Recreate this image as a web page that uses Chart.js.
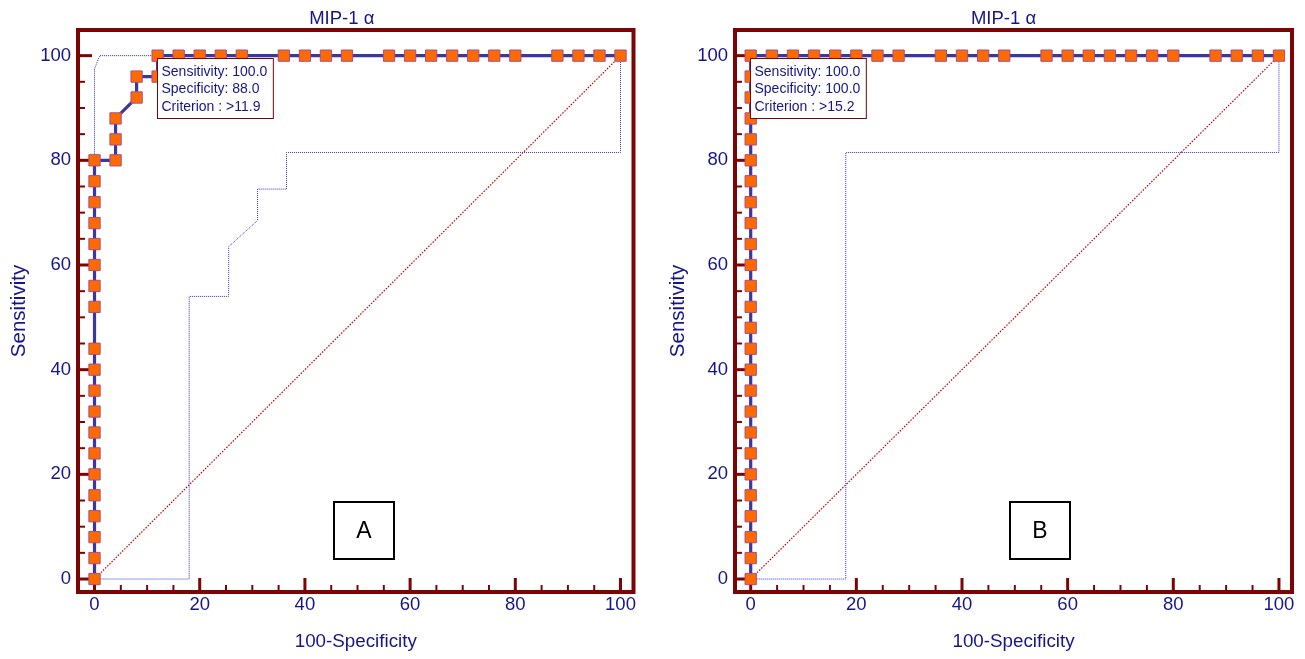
<!DOCTYPE html>
<html>
<head>
<meta charset="utf-8">
<script src="https://cdn.jsdelivr.net/npm/chart.js@4.4.1/dist/chart.umd.min.js"></script>
<style>
html, body { margin: 0; padding: 0; background: #fff; }
#wrap { position: relative; width: 1305px; height: 659px; }
canvas { position: absolute; top: 0; }
</style>
</head>
<body>
<div id="wrap">
  <canvas id="rocA" width="652" height="659" style="left:0px"></canvas>
  <canvas id="rocB" width="653" height="659" style="left:652px"></canvas>
</div>
<script>
// ROC curves, MIP-1 alpha
var chartTitle = "MIP-1 α";
var xTitle = "100-Specificity";
var yTitle = "Sensitivity";
var tickValues = [0, 20, 40, 60, 80, 100];

// panel A
var rocA_x = [0,0,0,0,0,0,0,0,0,0,0,0,0,0,0,0,0,0,0,0,4,4,4,8,8,12,12,16,20,24,28,36,40,44,48,56,60,64,68,72,76,80,88,92,96,100];
var rocA_y = [0,4,8,12,16,20,24,28,32,36,40,44,52,56,60,64,68,72,76,80,80,84,88,92,96,96,100,100,100,100,100,100,100,100,100,100,100,100,100,100,100,100,100,100,100,100];
var loA_x = [0,18,18,25.5,25.5,31,31,36.5,36.5,100,100];
var loA_y = [0,0,54,54,63.5,68.5,74.5,74.5,81.5,81.5,100];
var hiA_x = [0,0,1,100];
var hiA_y = [80,97.5,100,100];
var statsA = ["Sensitivity: 100.0", "Specificity: 88.0", "Criterion : >11.9"];
var critA = [12, 100];

// panel B
var rocB_x = [0,0,0,0,0,0,0,0,0,0,0,0,0,0,0,0,0,0,0,0,0,0,0,0,0,0,4,8,12,16,20,24,28,36,40,44,48,56,60,64,68,72,76,80,88,92,96,100];
var rocB_y = [0,4,8,12,16,20,24,28,32,36,40,44,48,52,56,60,64,68,72,76,80,84,88,92,96,100,100,100,100,100,100,100,100,100,100,100,100,100,100,100,100,100,100,100,100,100,100,100];
var loB_x = [0,18,18,100,100];
var loB_y = [0,0,81.5,81.5,100];
var hiB_x = [0,100];
var hiB_y = [100,100];
var statsB = ["Sensitivity: 100.0", "Specificity: 100.0", "Criterion : >15.2"];
var critB = [0, 100];

var diag_x = [0, 100];
var diag_y = [0, 100];

var navy = "#16168a";
var frameColor = "#7c0404";
var fontFam = "'Liberation Sans', Arial, sans-serif";

function pts(xs, ys) {
    return xs.map(function (x, i) { return { x: x, y: ys[i] }; });
}

var rocDecor = {
    id: 'rocDecor',
    beforeDatasetsDraw: function (chart, args, opts) {
        var ctx = chart.ctx, a = chart.chartArea;
        var xs = chart.scales.x, ys = chart.scales.y;
        ctx.save();
        // title, a little left of the plot centre like the original
        ctx.fillStyle = navy;
        ctx.font = "18.5px " + fontFam;
        ctx.textAlign = "center";
        ctx.textBaseline = "middle";
        ctx.fillText(chartTitle, (a.left + a.right) / 2 - opts.titleShift, 19);

        ctx.strokeStyle = frameColor;
        for (var v = 0; v <= 100; v += 5) {
            var major = v % 20 === 0;
            var len = major ? 14 : 7;
            ctx.lineWidth = major ? 3 : 2;
            var py = ys.getPixelForValue(v);
            ctx.beginPath(); ctx.moveTo(a.left, py); ctx.lineTo(a.left + len, py); ctx.stroke();
            var px = xs.getPixelForValue(v);
            ctx.beginPath(); ctx.moveTo(px, a.bottom); ctx.lineTo(px, a.bottom - len); ctx.stroke();
        }
        ctx.lineWidth = 4;
        ctx.strokeRect(a.left, a.top, a.right - a.left, a.bottom - a.top);
        ctx.restore();
    },
    afterDatasetsDraw: function (chart, args, opts) {
        var ctx = chart.ctx, a = chart.chartArea;
        var xs = chart.scales.x, ys = chart.scales.y;
        ctx.save();
        // stats box at the criterion point
        ctx.font = "14px " + fontFam;
        var w = 0;
        opts.stats.forEach(function (s) { w = Math.max(w, ctx.measureText(s).width); });
        var bx = Math.round(xs.getPixelForValue(opts.crit[0])) - 0.5;
        var by = Math.round(ys.getPixelForValue(opts.crit[1])) + 2.5;
        ctx.fillStyle = "#fff";
        ctx.fillRect(bx, by, w + 10, 60);
        ctx.strokeStyle = frameColor;
        ctx.lineWidth = 1;
        ctx.strokeRect(bx, by, w + 10, 60);
        ctx.fillStyle = navy;
        ctx.textBaseline = "middle";
        opts.stats.forEach(function (s, i) { ctx.fillText(s, bx + 4, by + 13.5 + i * 17.5); });
        // panel letter
        var lx = a.left + opts.panelLeft, ly = a.bottom - 90;
        ctx.strokeStyle = "#000";
        ctx.lineWidth = 2;
        ctx.strokeRect(lx, ly, 60, 57);
        ctx.fillStyle = "#000";
        ctx.font = "23px " + fontFam;
        ctx.textAlign = "center";
        ctx.fillText(opts.panel, lx + 30, ly + 30);
        ctx.restore();
    }
};

function makeChart(id, roc, lo, hi, o) {
    var ctx = document.getElementById(id);
    return new Chart(ctx, {
        type: 'scatter',
        data: {
            datasets: [{
                data: roc,
                showLine: true,
                borderColor: "#3b36a3",
                borderWidth: 3.2,
                pointStyle: 'rect',
                pointRadius: 8,
                pointBackgroundColor: "#ff6a00",
                pointBorderColor: "#a8508c",
                pointBorderWidth: 1
            }, {
                data: lo,
                showLine: true,
                borderColor: "#3030d0",
                borderWidth: 1,
                borderDash: [1, 1],
                pointRadius: 0
            }, {
                data: hi,
                showLine: true,
                borderColor: "#3030d0",
                borderWidth: 1,
                borderDash: [1, 1],
                pointRadius: 0
            }, {
                data: pts(diag_x, diag_y),
                showLine: true,
                borderColor: "#c00000",
                borderWidth: 1.2,
                borderDash: [1.5, 1.5],
                pointRadius: 0
            }]
        },
        options: {
            animation: { duration: 0 },
            responsive: false,
            layout: { padding: { left: 0, right: o.padRight, top: 30, bottom: 0 } },
            plugins: {
                legend: { display: false },
                tooltip: { enabled: false },
                title: { display: false },
                rocDecor: { stats: o.stats, crit: o.crit, panel: o.panel, panelLeft: o.panelLeft, titleShift: o.titleShift }
            },
            scales: {
                x: {
                    type: 'linear',
                    min: o.xmin, max: 102.47,
                    grid: { display: false, drawTicks: false },
                    border: { display: false },
                    afterBuildTicks: function (s) { s.ticks = tickValues.map(function (v) { return { value: v }; }); },
                    afterFit: function (s) { s.height = 67; },
                    ticks: { color: navy, font: { family: fontFam, size: 18.5 }, padding: 2, maxRotation: 0 },
                    title: {
                        display: true, text: xTitle, color: navy,
                        font: { family: fontFam, size: 18.8 },
                        padding: { top: 0, bottom: 6 }
                    }
                },
                y: {
                    type: 'linear',
                    min: -2.48, max: 104.9,
                    grid: { display: false, drawTicks: false },
                    border: { display: false },
                    afterBuildTicks: function (s) { s.ticks = tickValues.map(function (v) { return { value: v }; }); },
                    afterFit: function (s) { s.width = o.yWidth; },
                    ticks: { color: navy, font: { family: fontFam, size: 18.5 }, padding: 7 },
                    title: {
                        display: true, text: yTitle, color: navy,
                        font: { family: fontFam, size: 20.5 },
                        padding: { top: o.yTitlePad, bottom: 0 }
                    }
                }
            }
        },
        plugins: [rocDecor]
    });
}

var chartA = makeChart('rocA', pts(rocA_x, rocA_y), pts(loA_x, loA_y), pts(hiA_x, hiA_y),
    { padRight: 18.5, xmin: -3.14, yWidth: 78, yTitlePad: 7, titleShift: 14, stats: statsA, crit: critA, panel: "A", panelLeft: 256 });
var chartB = makeChart('rocB', pts(rocB_x, rocB_y), pts(loB_x, loB_y), pts(hiB_x, hiB_y),
    { padRight: 13, xmin: -2.97, yWidth: 83, yTitlePad: 14, titleShift: 10, stats: statsB, crit: critB, panel: "B", panelLeft: 275 });
</script>
</body>
</html>
